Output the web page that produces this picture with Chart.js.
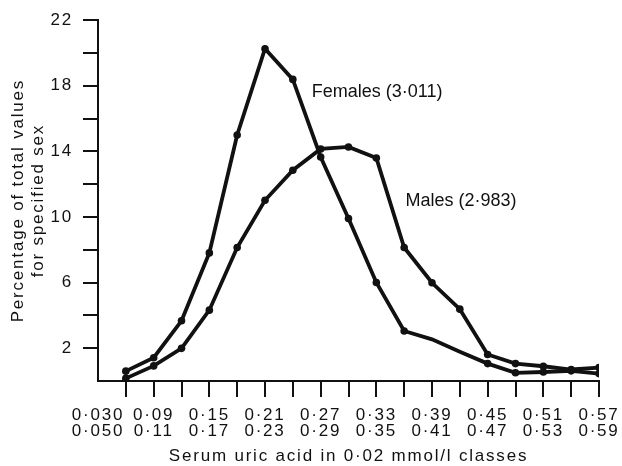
<!DOCTYPE html>
<html>
<head>
<meta charset="utf-8">
<script src="https://cdn.jsdelivr.net/npm/chart.js@4/dist/chart.umd.min.js"></script>
<style>
  html,body{margin:0;padding:0;background:#fff;}
  #wrap{width:622px;height:466px;position:relative;}
</style>
</head>
<body>
<div id="wrap"><canvas id="c"></canvas></div>
<script>
// clases de ácido úrico: índice -1 = 0·030, luego pasos de 0·03
const classLower = ['0·030','0·06','0·09','0·12','0·15','0·18','0·21','0·24','0·27','0·30','0·33','0·36','0·39','0·42','0·45','0·48','0·51','0·54','0·57'];
const classUpper = ['0·050','0·08','0·11','0·14','0·17','0·20','0·23','0·26','0·29','0·32','0·35','0·38','0·41','0·44','0·47','0·50','0·53','0·56','0·59'];
const classIndex = classLower.map((_,i)=> i-1);        // -1 .. 17
const labelledClasses = [-1,1,3,5,7,9,11,13,15,17];

const females = [0.6, 1.42, 3.67, 7.81, 15.0, 20.26, 18.39, 13.66, 9.91, 6.01, 3.05, 2.54, 1.79, 1.06, 0.5, 0.55, 0.62, 0.45];
const males   = [0.16, 0.92, 1.99, 4.32, 8.14, 11.02, 12.85, 14.15, 14.27, 13.6, 8.14, 5.99, 4.38, 1.62, 1.06, 0.9, 0.7, 0.82];
const femalesNoDot = [11, 12];

const yTicks = [2,4,6,8,10,12,14,16,18,20,22];
const yLabelled = [2,6,10,14,18,22];

const seriesLabels = [
  { text:'Females (3·011)', x:6.68, y:17.6 },
  { text:'Males (2·983)',   x:10.05, y:10.95 }
];

const FONT = '"Liberation Sans", Arial, sans-serif';
const INK = '#111';

const toPts = (arr)=> arr.map((v,i)=> ({x:i, y:v}));
const labelAt = (v)=> { const k = classIndex.indexOf(v); return [classLower[k], classUpper[k]]; };

// tipografía más espaciada, como en la figura impresa (solo al dibujar, no al medir)
const spacingPlugin = {
  id:'spacing',
  beforeDraw(chart){ chart.ctx.letterSpacing = '1.8px'; },
  afterDraw(chart){ chart.ctx.letterSpacing = '0px'; }
};

const labelPlugin = {
  id:'seriesLabels',
  afterDatasetsDraw(chart){
    const {ctx, scales:{x, y}} = chart;
    ctx.save();
    ctx.letterSpacing = '0px';
    ctx.fillStyle = INK;
    ctx.font = '18px ' + FONT;
    ctx.textAlign = 'left';
    ctx.textBaseline = 'middle';
    seriesLabels.forEach(l=> ctx.fillText(l.text, x.getPixelForValue(l.x), y.getPixelForValue(l.y)));
    ctx.restore();
  }
};

const lineDs = (data, noDot)=> ({
  data: toPts(data),
  borderColor: INK,
  backgroundColor: INK,
  borderWidth: 3.8,
  pointRadius: (c)=> noDot.includes(c.dataIndex) ? 0 : 3.8,
  pointHoverRadius: 3.8,
  pointBorderWidth: 0,
  tension: 0
});

new Chart(document.getElementById('c'), {
  type: 'line',
  data: {
    datasets: [ lineDs(females, femalesNoDot), lineDs(males, []) ]
  },
  options: {
    responsive: true,
    maintainAspectRatio: false,
    animation: false,
    layout: { padding: { top: 19, right: 23, left: 8, bottom: 0 } },
    plugins: { legend:{ display:false }, tooltip:{ enabled:false } },
    scales: {
      x: {
        type: 'linear', min: -1, max: 17,
        afterBuildTicks: (s)=> { s.ticks = classIndex.map(v=> ({value:v})); },
        afterFit: (s)=> { s.height = 85; s.paddingLeft = 0; s.paddingRight = 0; },
        grid: {
          drawOnChartArea:false, drawTicks:true, tickLength:16, color:INK, lineWidth:2,
          tickColor: (c)=> c.tick && c.tick.value < 0 ? 'rgba(0,0,0,0)' : INK
        },
        border: { display:true, color:INK, width:2 },
        ticks: {
          autoSkip:false, maxRotation:0, color:INK, padding:10,
          font:{ family:FONT, size:17, lineHeight:0.94 },
          callback: (v)=> labelledClasses.includes(v) ? labelAt(v) : ''
        },
        title: {
          display:true, text:'Serum uric acid in 0·02 mmol/l classes', color:INK,
          font:{ family:FONT, size:17, lineHeight:1.1 }, padding:{ top:2, bottom:0 }
        }
      },
      y: {
        min: 0, max: 22,
        afterBuildTicks: (s)=> { s.ticks = yTicks.map(v=> ({value:v})); },
        afterFit: (s)=> { s.width = 90; },
        grid: { drawOnChartArea:false, drawTicks:true, tickLength:15, color:INK, lineWidth:2 },
        border: { display:true, color:INK, width:2 },
        ticks: {
          color:INK, padding:10,
          font:{ family:FONT, size:17 },
          callback: (v)=> yLabelled.includes(v) ? String(v) : ''
        },
        title: {
          display:true, text:['Percentage of total values','for specified sex'], color:INK,
          font:{ family:FONT, size:17, lineHeight:1.18 }, padding:{ top:0, bottom:0 }
        }
      }
    }
  },
  plugins: [spacingPlugin, labelPlugin]
});
</script>
</body>
</html>
